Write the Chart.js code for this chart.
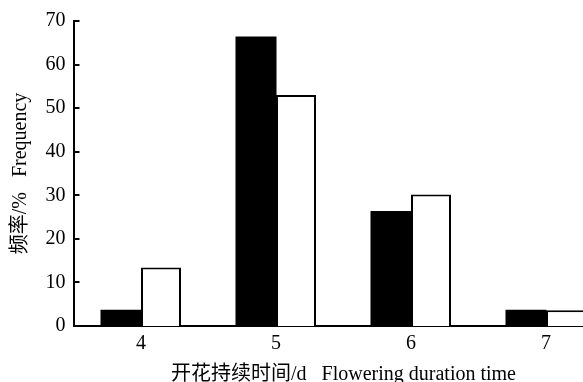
<!DOCTYPE html>
<html>
<head>
<meta charset="utf-8">
<script src="https://cdn.jsdelivr.net/npm/chart.js@4/dist/chart.umd.min.js"></script>
<style>
    html, body { margin: 0; padding: 0; background: #fff; }
    #wrap { width: 583px; height: 382px; overflow: hidden; position: relative; }
</style>
</head>
<body>
<div id="wrap"><canvas id="durationChart" width="620" height="400"></canvas></div>
<script>
const days = ['4', '5', '6', '7'];
const blackSeries = [3.6, 66.3, 26.3, 3.6];
const whiteSeries = [13.4, 53.0, 30.2, 3.6];
const yTitle = '频率/%   Frequency';
const xTitle = '开花持续时间/d   Flowering duration time';

const serif = "'Liberation Serif', 'Times New Roman', 'Noto Sans CJK SC', serif";

// short tick marks pointing into the plot, like the printed figure
const innerTicks = {
    id: 'innerTicks',
    afterDatasetsDraw(chart) {
        const { ctx, chartArea, scales } = chart;
        ctx.save();
        ctx.strokeStyle = '#000';
        ctx.lineWidth = 2;
        scales.y.ticks.forEach((t) => {
            const y = Math.round(scales.y.getPixelForValue(t.value));
            ctx.beginPath();
            ctx.moveTo(chartArea.left, y);
            ctx.lineTo(chartArea.left + 6, y);
            ctx.stroke();
        });
        ctx.restore();
    }
};

new Chart(document.getElementById('durationChart'), {
    type: 'bar',
    data: {
        labels: days,
        datasets: [
            { data: blackSeries, backgroundColor: '#000', borderColor: '#000', borderWidth: 0, inflateAmount: 0.5 },
            { data: whiteSeries, backgroundColor: '#fff', borderColor: '#000', borderWidth: 2 }
        ]
    },
    options: {
        responsive: false,
        animation: false,
        layout: { padding: { top: 21, right: 6.5, left: 0, bottom: 0 } },
        datasets: { bar: { categoryPercentage: 80 / 135, barPercentage: 1.0 } },
        plugins: { legend: { display: false }, tooltip: { enabled: false } },
        scales: {
            x: {
                grid: { display: false, drawTicks: false },
                border: { color: '#000', width: 2 },
                ticks: { color: '#000', font: { family: serif, size: 20 }, padding: 6 },
                title: { display: true, text: xTitle, color: '#000', font: { family: serif, size: 20 }, padding: { top: 0, bottom: 13 } },
                afterFit: (scale) => { scale.height = 74; }
            },
            y: {
                min: 0,
                max: 70,
                grid: { display: false, drawTicks: false },
                border: { color: '#000', width: 2 },
                ticks: { stepSize: 10, color: '#000', font: { family: serif, size: 20 }, padding: 8 },
                title: { display: true, text: yTitle, color: '#000', font: { family: serif, size: 20 }, padding: { top: 9, bottom: 0 } },
                afterFit: (scale) => { scale.width = 73.5; }
            }
        }
    },
    plugins: [innerTicks]
});
</script>
</body>
</html>
